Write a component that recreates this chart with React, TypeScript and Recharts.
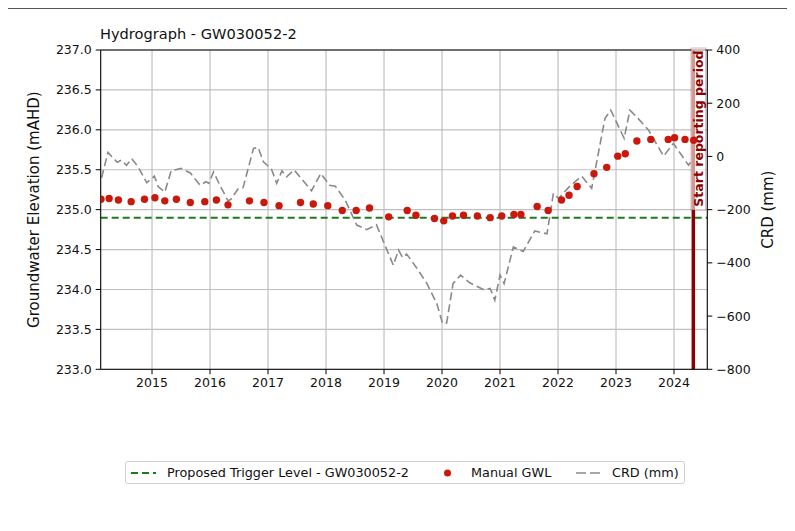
import React from "react";
import {
  ComposedChart,
  Line,
  Scatter,
  XAxis,
  YAxis,
  CartesianGrid,
  ReferenceLine,
} from "recharts";

// manual groundwater level readings (decimal year, mAHD)
const gwlDates = [
  2014.12, 2014.26, 2014.42, 2014.64, 2014.87, 2015.05, 2015.22, 2015.42, 2015.66, 2015.91,
  2016.11, 2016.31, 2016.68, 2016.93, 2017.19, 2017.56, 2017.78, 2018.03, 2018.28, 2018.52,
  2018.75, 2019.08, 2019.4, 2019.55, 2019.87, 2020.03, 2020.18, 2020.37, 2020.61, 2020.83,
  2021.03, 2021.24, 2021.36, 2021.64, 2021.83, 2022.06, 2022.19, 2022.33, 2022.62, 2022.84,
  2023.03, 2023.16, 2023.36, 2023.6, 2023.9, 2024.01, 2024.19, 2024.34,
];
const gwlLevels = [
  235.13, 235.14, 235.12, 235.1, 235.13, 235.15, 235.11, 235.13, 235.09, 235.1,
  235.12, 235.06, 235.11, 235.09, 235.05, 235.09, 235.07, 235.05, 234.99, 234.99,
  235.02, 234.91, 234.99, 234.93, 234.89, 234.86, 234.92, 234.93, 234.92, 234.9,
  234.92, 234.94, 234.94, 235.04, 234.99, 235.12, 235.18, 235.29, 235.45, 235.53,
  235.67, 235.7, 235.86, 235.88, 235.88, 235.9, 235.88, 235.87,
];

// cumulative rainfall departure (decimal year, mm)
const crdDates = [
  2014.13, 2014.24, 2014.4, 2014.47, 2014.56, 2014.65, 2014.76, 2014.91, 2015.04, 2015.11,
  2015.22, 2015.33, 2015.5, 2015.66, 2015.83, 2015.93, 2015.98, 2016.06, 2016.17, 2016.31,
  2016.36, 2016.49, 2016.57, 2016.75, 2016.83, 2016.92, 2017.06, 2017.15, 2017.24, 2017.32,
  2017.45, 2017.75, 2017.91, 2018.06, 2018.16, 2018.33, 2018.53, 2018.7, 2018.87, 2019.16,
  2019.25, 2019.32, 2019.39, 2019.56, 2019.74, 2019.91, 2020.01, 2020.08, 2020.19, 2020.32,
  2020.48, 2020.74, 2020.83, 2020.91, 2021.0, 2021.07, 2021.23, 2021.4, 2021.6, 2021.81,
  2021.92, 2022.01, 2022.21, 2022.41, 2022.58, 2022.81, 2022.91, 2023.14, 2023.24, 2023.38,
  2023.56, 2023.82, 2023.99, 2024.25, 2024.31,
];
const crdValues = [
  -80, 15, -22, -14, -33, -8, -39, -99, -74, -114,
  -134, -54, -45, -62, -108, -95, -101, -58, -108, -167,
  -161, -120, -117, 30, 34, -20, -48, -101, -54, -77,
  -51, -129, -64, -108, -112, -164, -258, -275, -257, -409,
  -352, -380, -367, -418, -478, -553, -628, -626, -478, -446,
  -475, -503, -496, -540, -446, -478, -340, -357, -280, -291,
  -139, -158, -110, -74, -120, 143, 174, 68, 174, 143,
  99, 1, 49, -33, -14,
];

const yearTicks = [2015, 2016, 2017, 2018, 2019, 2020, 2021, 2022, 2023, 2024];
const levelTicks = [233, 233.5, 234, 234.5, 235, 235.5, 236, 236.5, 237];
const crdTicks = [-800, -600, -400, -200, 0, 200, 400];

const TRIGGER_LEVEL = 234.9;
const REPORT_START = 2024.333;
const X_MIN = 2014.115;
const X_MAX = 2024.574;

const TITLE = "Hydrograph - GW030052-2";
const legendNames = ["Proposed Trigger Level - GW030052-2", "Manual GWL", "CRD (mm)"];
const legendKinds = ["trigger", "dot", "crd"];
// left offset of each legend entry inside the legend box
const legendOffsets = [5, 309, 450];

const gwlData = gwlDates.map((year, i) => ({ year, value: gwlLevels[i] }));
const crdData = crdDates.map((year, i) => ({ year, value: crdValues[i] }));

const FONT = "DejaVu Sans";
const DOT_RED = "#c8190c";
const CRD_GREY = "#8a8a8a";
const TRIGGER_GREEN = "#1a7d1a";
const DARK_RED = "#8b0000";

const tickStyle = { fontSize: 12.5, fontFamily: FONT, fill: "#111" };

const Dot = (props: any) => (
  <circle cx={props.cx} cy={props.cy} r={3.7} fill={DOT_RED} />
);

const ReportLabel = (props: any) => {
  const vb = props.viewBox;
  if (!vb) return null;
  const lx = vb.x;
  const yMid = vb.y + vb.height * ((237 - 235) / (237 - 233));
  return (
    <g>
      <rect
        x={lx - 2.3}
        y={yMid - 161.6}
        width={14.7}
        height={162}
        fill="#fff"
        fillOpacity={0.6}
        stroke={DARK_RED}
        strokeOpacity={0.3}
      />
      <text
        x={lx + 9.2}
        y={yMid - 3}
        transform={`rotate(-90, ${lx + 9.2}, ${yMid - 3})`}
        fontSize={12.5}
        fontFamily={FONT}
        fontWeight="bold"
        fill={DARK_RED}
      >
        Start reporting period
      </text>
    </g>
  );
};

const leftLabel = (props: any) => {
  const vb = props.viewBox;
  const x = vb.x + 31.5;
  const y = vb.y + vb.height / 2;
  return (
    <text x={x} y={y} transform={`rotate(-90, ${x}, ${y})`} textAnchor="middle" fontSize={15} fontFamily={FONT} fill="#111">
      Groundwater Elevation (mAHD)
    </text>
  );
};

const rightLabel = (props: any) => {
  const vb = props.viewBox;
  const x = vb.x + 66.2;
  const y = vb.y + vb.height / 2;
  return (
    <text x={x} y={y} transform={`rotate(-90, ${x}, ${y})`} textAnchor="middle" fontSize={15} fontFamily={FONT} fill="#111">
      CRD (mm)
    </text>
  );
};

const LegendHandle = ({ kind }: { kind: string }) => (
  <svg width={25} height={10} style={{ display: "block" }}>
    {kind === "trigger" && (
      <line x1={0} y1={5} x2={25} y2={5} stroke={TRIGGER_GREEN} strokeWidth={2} strokeDasharray="7 4" />
    )}
    {kind === "dot" && <circle cx={12.5} cy={5} r={3.5} fill={DOT_RED} />}
    {kind === "crd" && (
      <line x1={0} y1={5} x2={25} y2={5} stroke={CRD_GREY} strokeWidth={1.6} strokeDasharray="10 4" />
    )}
  </svg>
);

export default function App() {
  return (
    <div style={{ position: "relative", width: 787, height: 523, fontFamily: FONT }}>
      <div style={{ position: "absolute", left: -8, top: 0, width: 795, height: 1, background: "#555" }} />
      <div style={{ position: "absolute", left: -2, top: 0, width: 2, height: 523, background: "#333" }} />
      <div
        style={{
          position: "absolute",
          left: 92,
          top: 18,
          fontSize: 14.6,
          lineHeight: "15px",
          color: "#111",
          whiteSpace: "nowrap",
        }}
      >
        {TITLE}
      </div>

      <ComposedChart
        width={787}
        height={523}
        margin={{ top: 42, right: 0, bottom: 131.7, left: 0 }}
      >
        <CartesianGrid yAxisId="left" stroke="#c0c0c0" strokeWidth={1.2} />
        <XAxis
          type="number"
          dataKey="year"
          domain={[X_MIN, X_MAX]}
          ticks={yearTicks}
          allowDataOverflow
          height={30}
          tick={tickStyle}
          tickSize={5}
          tickMargin={4}
          axisLine={{ stroke: "#000" }}
          tickLine={{ stroke: "#000" }}
          tickFormatter={(v: number) => String(Math.round(v))}
        />
        <YAxis
          yAxisId="left"
          dataKey="value"
          width={92.7}
          domain={[233, 237]}
          ticks={levelTicks}
          allowDataOverflow
          tick={tickStyle}
          tickSize={5}
          tickMargin={4}
          axisLine={{ stroke: "#000" }}
          tickLine={{ stroke: "#000" }}
          tickFormatter={(v: number) => v.toFixed(1)}
          label={leftLabel}
        />
        <YAxis
          yAxisId="right"
          orientation="right"
          dataKey="value"
          width={87.7}
          domain={[-800, 400]}
          ticks={crdTicks}
          allowDataOverflow
          tick={tickStyle}
          tickSize={5}
          tickMargin={4}
          axisLine={{ stroke: "#000" }}
          tickLine={{ stroke: "#000" }}
          tickFormatter={(v: number) => String(v).replace("-", "\u2212")}
          label={rightLabel}
        />
        <ReferenceLine yAxisId="left" y={237} stroke="#000" />
        <ReferenceLine
          yAxisId="left"
          y={TRIGGER_LEVEL}
          stroke={TRIGGER_GREEN}
          strokeWidth={2}
          strokeDasharray="7 4"
        />
        <Scatter
          yAxisId="left"
          data={gwlData}
          dataKey="value"
          shape={<Dot />}
          isAnimationActive={false}
        />
        <Line
          yAxisId="right"
          data={crdData}
          dataKey="value"
          type="linear"
          stroke={CRD_GREY}
          strokeWidth={1.6}
          strokeDasharray="8 4"
          dot={false}
          activeDot={false}
          isAnimationActive={false}
        />
        <ReferenceLine
          yAxisId="left"
          x={REPORT_START}
          stroke={DARK_RED}
          strokeWidth={3.5}
          label={ReportLabel}
        />
      </ComposedChart>

      <div
        style={{
          position: "absolute",
          left: 117,
          top: 453,
          width: 560,
          height: 23,
          boxSizing: "border-box",
          border: "1px solid #d0d0d0",
          borderRadius: 3,
          fontSize: 12.8,
          color: "#111",
          whiteSpace: "nowrap",
        }}
      >
        {legendNames.map((name, i) => (
          <div
            key={name}
            style={{
              position: "absolute",
              left: legendOffsets[i],
              top: 0,
              height: 21,
              display: "flex",
              alignItems: "center",
            }}
          >
            <LegendHandle kind={legendKinds[i]} />
            <span style={{ marginLeft: 11 }}>{name}</span>
          </div>
        ))}
      </div>
    </div>
  );
}
